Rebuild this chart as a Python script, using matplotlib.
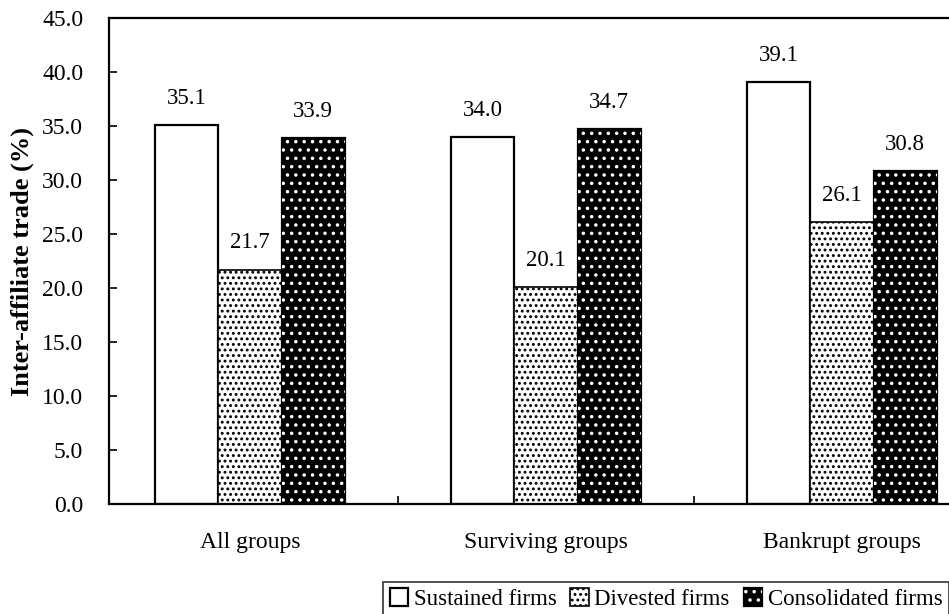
import numpy as np
import matplotlib.pyplot as plt
from matplotlib.legend_handler import HandlerTuple

plt.rcParams['font.family'] = 'Liberation Serif'
plt.rcParams['hatch.linewidth'] = 1.3

groups = ['All groups', 'Surviving groups', 'Bankrupt groups']
sustained = [35.1, 34.0, 39.1]
divested = [21.7, 20.1, 26.1]
consolidated = [33.9, 34.7, 30.8]
yticks = np.arange(0, 45.1, 5)

fig = plt.figure(figsize=(9.49, 6.14), dpi=100)
ax = fig.add_axes([109/949, 1 - 504/614, 881/949, 486/614])

x = np.arange(len(groups))
w = 0.214

b1 = ax.bar(x - w, sustained, w, color='white', edgecolor='black', linewidth=1.6)
b2 = ax.bar(x, divested, w, color='white', edgecolor='black', linewidth=1.2, hatch='...')
b3 = ax.bar(x + w, consolidated, w, color='black', edgecolor='black', linewidth=1.6)
b3h = ax.bar(x + w, consolidated, w, fill=False, edgecolor='white', linewidth=0, hatch='..')

for bars, vals in [(b1, sustained), (b2, divested), (b3, consolidated)]:
    for r, v in zip(bars, vals):
        ax.text(r.get_x() + r.get_width() / 2, v + 1.5, f'{v:.1f}',
                ha='center', va='bottom', fontsize=16.5)

ax.set_xlim(-0.476, 2.5)
ax.set_ylim(0, 45)
ax.set_yticks(yticks)
ax.set_yticklabels([f'{t:.1f}' for t in yticks], fontsize=17)
ax.set_xticks(x)
ax.set_xticklabels(groups, fontsize=17)
ax.set_xticks([0.5, 1.5], minor=True)
ax.tick_params(axis='x', which='major', length=0, pad=20)
ax.tick_params(axis='x', which='minor', direction='in', length=6, width=1.2)
ax.tick_params(axis='y', direction='in', length=6, width=1.2, pad=18.5)
ax.set_ylabel('Inter-affiliate trade (%)', fontsize=19, fontweight='bold', labelpad=6)

for s in ['left', 'bottom', 'top']:
    ax.spines[s].set_linewidth(1.6)
ax.spines['right'].set_visible(False)

leg = fig.legend([b1, b2, (b3, b3h)],
                 ['Sustained firms', 'Divested firms', 'Consolidated firms'],
                 handler_map={tuple: HandlerTuple(ndivide=1)},
                 loc='lower center', bbox_to_anchor=(666/949, -0.005), ncol=3,
                 fontsize=16.5, frameon=True, fancybox=False, edgecolor='black',
                 handlelength=0.8, handleheight=0.8, handletextpad=0.25,
                 columnspacing=0.6, borderpad=0.3, borderaxespad=0)
leg.get_frame().set_linewidth(1.2)

fig.savefig('out.png', dpi=100)
